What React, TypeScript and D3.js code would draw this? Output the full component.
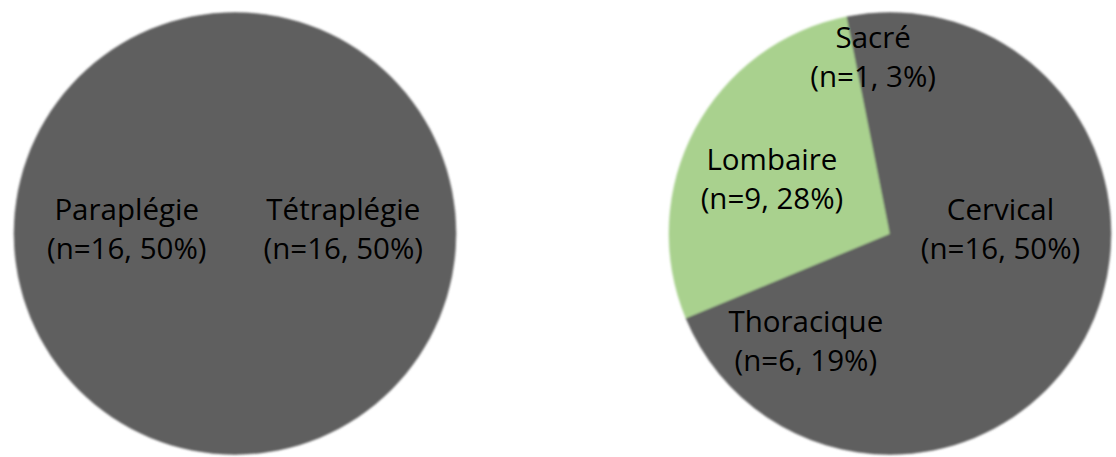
import React from "react";
import * as d3 from "d3";

const leftCategories = ["Tétraplégie", "Paraplégie"];
const leftValues = [16, 16];
const leftPercents = [50, 50];

const rightCategories = ["Cervical", "Thoracique", "Lombaire", "Sacré"];
const rightValues = [16, 6, 9, 1];
const rightPercents = [50, 19, 28, 3];

const GRAY = "#5f5f5f";
const GREEN = "#a9d18e";
const leftColors = [GRAY, GRAY];
const rightColors = [GRAY, GRAY, GREEN, GRAY];
const leftLabelR = [0.49, 0.49];
const leftLabelNudge = [0, 0];
const rightLabelR = [0.5, 0.635, 0.58, 0.78];
const rightLabelNudge = [0, 3.1, -5.2, 0];

const W = 1116;
const H = 457;
const R = 221;

function Pie({ cx, cy, cats, vals, pcts, colors, labelR, nudge }: any) {
  const pie = d3.pie<number>().sort(null).value((d) => d);
  const arcs = pie(vals);
  const arc = d3.arc<d3.PieArcDatum<number>>().innerRadius(0).outerRadius(R);
  return (
    <g transform={`translate(${cx},${cy})`}>
      <g filter="url(#soft)">
        {arcs.map((a, i) => (
          <path key={i} d={arc(a) || ""} fill={colors[i]} stroke={colors[i]} strokeWidth={0.5} />
        ))}
      </g>
      {arcs.map((a, i) => {
        const mid = (a.startAngle + a.endAngle) / 2 + (nudge[i] * Math.PI) / 180;
        const r = labelR[i] * R;
        const x = Math.sin(mid) * r;
        const y = -Math.cos(mid) * r;
        return (
          <text
            key={"t" + i}
            x={x}
            y={y}
            textAnchor="middle"
            fontFamily="'Open Sans', sans-serif"
            fontSize={29.5}
            fill="#000"
          >
            <tspan x={x} dy={-14}>{cats[i]}</tspan>
            <tspan x={x} dy={39}>{`(n=${vals[i]}, ${pcts[i]}%)`}</tspan>
          </text>
        );
      })}
    </g>
  );
}

export default function App() {
  return (
    <svg
      width={W}
      height={H}
      style={{ position: "absolute", left: 0, top: 0, background: "#fff" }}
    >
      <defs>
        <filter id="soft" x="-10%" y="-10%" width="120%" height="120%">
          <feGaussianBlur stdDeviation={1.1} />
        </filter>
      </defs>
      <Pie cx={235} cy={233.5} cats={leftCategories} vals={leftValues} pcts={leftPercents} colors={leftColors} labelR={leftLabelR} nudge={leftLabelNudge} />
      <Pie cx={890} cy={233.5} cats={rightCategories} vals={rightValues} pcts={rightPercents} colors={rightColors} labelR={rightLabelR} nudge={rightLabelNudge} />
    </svg>
  );
}
